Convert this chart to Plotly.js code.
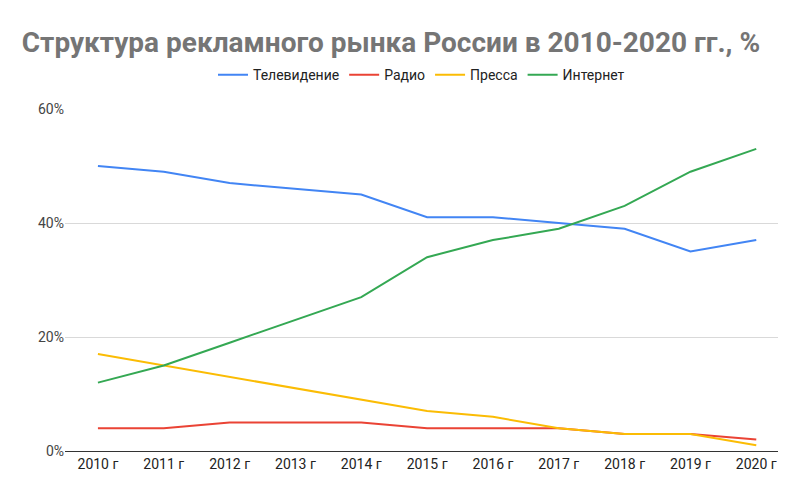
<!DOCTYPE html>
<html><head><meta charset="utf-8">
<script src="https://cdn.plot.ly/plotly-3.0.1.min.js"></script>
<style>html,body{margin:0;padding:0;background:#fff}</style>
</head><body>
<div id="chart" style="width:807px;height:497px"></div>
<script>
const years = ["2010 г","2011 г","2012 г","2013 г","2014 г","2015 г","2016 г","2017 г","2018 г","2019 г","2020 г"];
const tv =       [50, 49, 47, 46, 45, 41, 41, 40, 39, 35, 37];
const radio =    [4, 4, 5, 5, 5, 4, 4, 4, 3, 3, 2];
const press =    [17, 15, 13, 11, 9, 7, 6, 4, 3, 3, 1];
const internet = [12, 15, 19, 23, 27, 34, 37, 39, 43, 49, 53];
const names = ["Телевидение","Радио","Пресса","Интернет"];
const colors = ["#4285f4","#ea4335","#fbbc04","#34a853"];
const series = [tv, radio, press, internet];
const traces = series.map((s,i)=>({
  x: years, y: s, name: names[i], type: "scatter", mode: "lines",
  line: {color: colors[i], width: 2}
}));
const layout = {
  width: 807, height: 497,
  margin: {l: 65, r: 29, t: 109, b: 46},
  paper_bgcolor: "#fff", plot_bgcolor: "#fff",
  font: {family: "Roboto, Arial, sans-serif", size: 14, color: "#444"},
  title: {text: "<b>Структура рекламного рынка России в 2010-2020 гг., %</b>",
    x: 0.027, xanchor: "left", y: 0.915, yanchor: "middle",
    font: {family: "Roboto, Arial, sans-serif", size: 28, color: "#757575"}},
  showlegend: true,
  legend: {orientation: "h", x: 0.5, xanchor: "center", y: 1.099, yanchor: "middle",
    font: {size: 14, color: "#222"}, traceorder: "normal"},
  xaxis: {type: "category", range: [-0.5, 10.33], showgrid: false, zeroline: false,
    showline: true, linecolor: "#333", linewidth: 1, ticks: "", tickfont: {size: 14, color: "#222"},
    fixedrange: true},
  yaxis: {range: [0, 60], tickvals: [0, 20, 40, 60], ticktext: ["0%","20%","40%","60%"],
    showgrid: true, gridcolor: "#d9d9d9", gridwidth: 1, zeroline: false, showline: false,
    ticks: "", tickfont: {size: 14, color: "#444"}, fixedrange: true}
};
Plotly.newPlot("chart", traces, layout, {displayModeBar: false, staticPlot: true});
</script>
</body></html>
